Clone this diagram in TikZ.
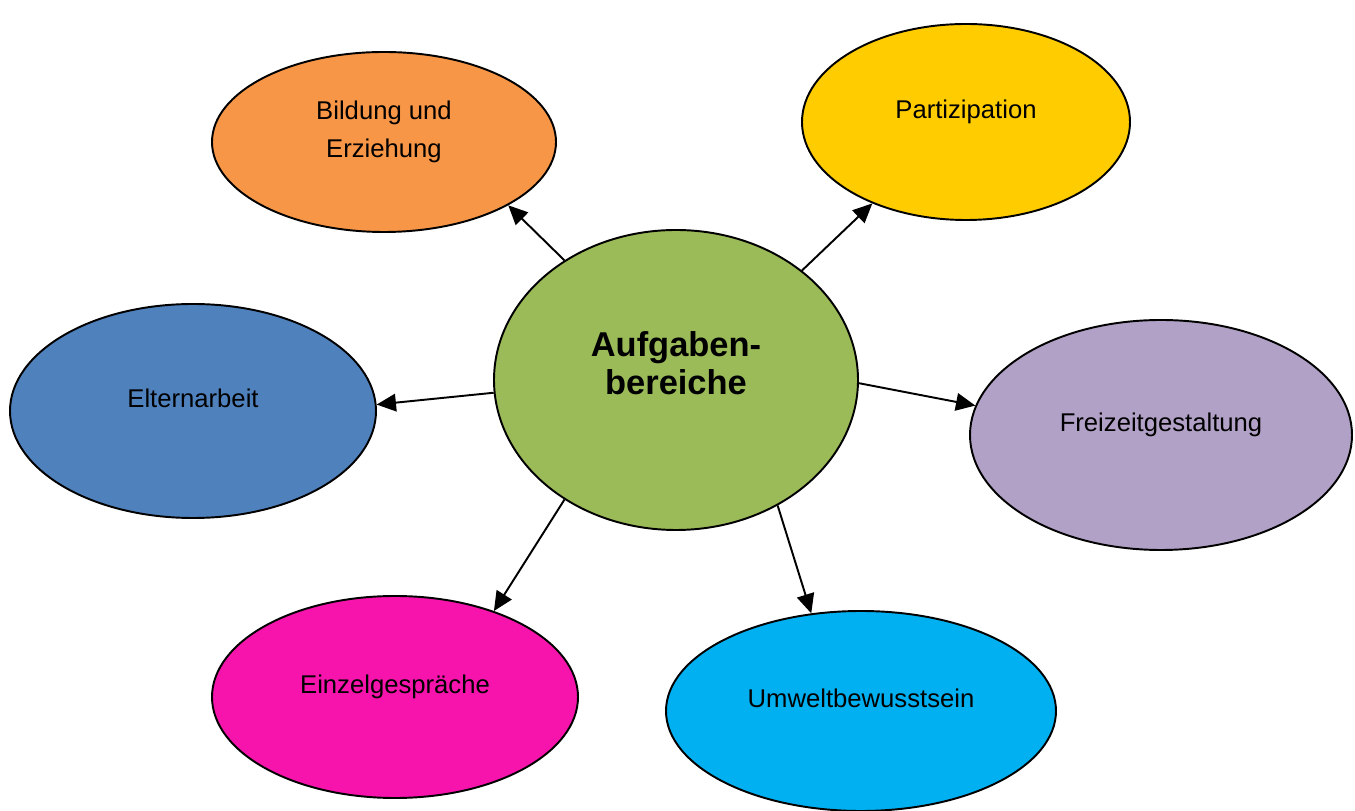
\documentclass[tikz,border=0pt]{standalone}
\usepackage{fontspec}
\setmainfont{Liberation Sans}
\usetikzlibrary{shapes.geometric,arrows.meta}
\definecolor{orangeB}{HTML}{F79646}
\definecolor{yellowP}{HTML}{FFCC00}
\definecolor{greenA}{HTML}{9BBB59}
\definecolor{blueE}{HTML}{4F81BD}
\definecolor{lilacF}{HTML}{B2A1C7}
\definecolor{pinkG}{HTML}{F714AC}
\definecolor{cyanU}{HTML}{00B0F0}
\tikzset{
	blob/.style={ellipse,draw,line width=1.1pt,inner sep=0pt,align=center,
		font=\fontsize{14.6}{21.6}\selectfont,text depth=0.5cm},
	core/.style={blob,font=\fontsize{19.6}{21.7}\selectfont\bfseries,text depth=0.67cm},
	arr/.style={-{Triangle[length=11pt,width=10pt]},line width=1.1pt}
}
\begin{document}
\begin{tikzpicture}
			\useasboundingbox (0,0) rectangle (27.1,16.22);
			\node[core,fill=greenA,minimum width=7.28cm,minimum height=6cm] (core) at (13.52,8.62){Aufgaben-\\bereiche};
			\node[blob,fill=orangeB,minimum width=6.88cm,minimum height=3.6cm] (bild) at (7.68,13.38){Bildung und\\Erziehung};
			\node[blob,fill=yellowP,minimum width=6.56cm,minimum height=3.92cm] (part) at (19.32,13.78){Partizipation};
			\node[blob,fill=blueE,minimum width=7.32cm,minimum height=4.28cm] (eltern) at (3.86,8){Elternarbeit};
			\node[blob,fill=lilacF,minimum width=7.64cm,minimum height=4.6cm] (frei) at (23.22,7.52){Freizeitgestaltung};
			\node[blob,fill=pinkG,minimum width=7.32cm,minimum height=4.04cm] (einzel) at (7.9,2.28){Einzelgespräche};
			\node[blob,fill=cyanU,minimum width=7.8cm,minimum height=4cm] (umwelt) at (17.22,2){Umweltbewusstsein};
			\draw[arr] (core.133)--(bild.-27);
			\draw[arr] (core.41)--(part.221);
			\draw[arr] (core.184)--(eltern.2.5);
			\draw[arr] (core.-1)--(frei.171);
			\draw[arr] (core.227)--(einzel.41);
			\draw[arr] (core.-51)--(umwelt.117);
		\end{tikzpicture}
\end{document}
